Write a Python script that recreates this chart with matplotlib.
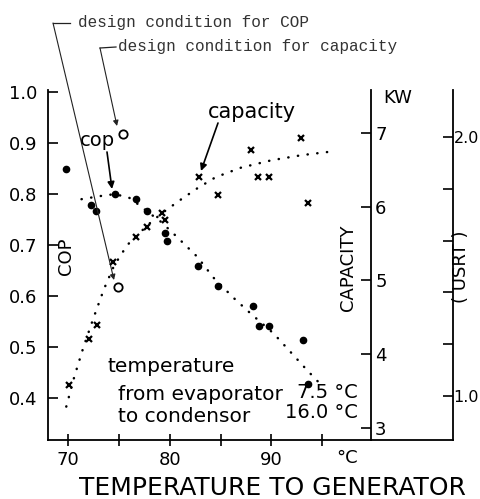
import matplotlib
matplotlib.use("Agg")
import matplotlib.pyplot as plt
from matplotlib.lines import Line2D
from matplotlib.ticker import FixedLocator

# measured COP (dots)
cop_temp = [69.8, 72.2, 72.7, 74.6, 76.7, 77.7, 79.5, 79.7, 82.8, 84.7, 88.2, 88.8, 89.8, 93.1, 93.6]
cop_vals = [0.849, 0.778, 0.767, 0.800, 0.791, 0.767, 0.723, 0.708, 0.659, 0.620, 0.580, 0.541, 0.541, 0.514, 0.427]

# measured capacity in kW (crosses)
cap_temp = [70.1, 72.0, 72.8, 74.4, 76.7, 77.7, 79.2, 79.5, 82.9, 84.7, 88.0, 88.7, 89.8, 92.9, 93.6]
cap_kw = [3.58, 4.21, 4.39, 5.25, 5.59, 5.73, 5.92, 5.82, 6.40, 6.16, 6.77, 6.40, 6.40, 6.93, 6.05]

# dotted trend curves
cop_curve_t = [71.3, 73.1, 74.6, 76.1, 77.7, 79.1, 80.7, 82.7, 84.3, 86.3, 88.0, 90.2, 91.9, 93.5, 94.7]
cop_curve_v = [0.790, 0.796, 0.800, 0.792, 0.767, 0.746, 0.716, 0.677, 0.636, 0.596, 0.565, 0.527, 0.490, 0.455, 0.430]
cap_curve_t = [69.8, 70.6, 71.5, 72.5, 73.5, 74.5, 75.8, 77.8, 79.1, 81.0, 82.7, 84.5, 87.0, 90.0, 93.0, 96.0]
cap_curve_v = [3.29, 3.70, 4.10, 4.50, 4.88, 5.20, 5.48, 5.75, 5.90, 6.09, 6.25, 6.40, 6.53, 6.63, 6.70, 6.75]

# design conditions (open circles)
design_cop_t, design_cop_v = [74.9], [0.618]
design_cap_t, design_cap_v = [75.4], [6.99]

W, H = 481, 499


def fp(px, py):
    # pixel position (from top-left) -> figure fraction
    return (px / W, 1 - py / H)


fig = plt.figure(figsize=(4.81, 4.99), dpi=100)
ax = fig.add_axes([48 / W, 59 / H, 323 / W, 350 / H])
ax2 = ax.twinx()
ax3 = ax.twinx()

dots = (0, (0.1, 3.8))
ax.plot(cop_curve_t, cop_curve_v, color="k", lw=1.8, linestyle=dots, dash_capstyle="round")
ax2.plot(cap_curve_t, cap_curve_v, color="k", lw=1.8, linestyle=dots, dash_capstyle="round")
ax.plot(cop_temp, cop_vals, "o", color="k", ms=4.5, ls="none")
ax2.plot(cap_temp, cap_kw, "x", color="k", ms=4.5, mew=1.6, ls="none")
ax.plot(design_cop_t, design_cop_v, "o", mfc="white", mec="k", ms=6, mew=1.3, ls="none")
ax2.plot(design_cap_t, design_cap_v, "o", mfc="white", mec="k", ms=6, mew=1.3, ls="none")

# axes limits
ax.set_xlim(68.0, 99.8)
ax.set_ylim(0.318, 1.004)
ax2.set_ylim(2.837, 7.583)
ax3.set_ylim(0.830, 2.181)

for a in (ax, ax2, ax3):
    a.spines["top"].set_visible(False)
    for s in a.spines.values():
        s.set_linewidth(1.3)
ax.spines["right"].set_visible(False)
ax2.spines["left"].set_visible(False)
ax3.spines["left"].set_visible(False)
ax2.spines["bottom"].set_visible(False)
ax3.spines["bottom"].set_visible(False)
ax3.spines["right"].set_position(("axes", 1.254))
ax.plot([1, 1.254], [0, 0], color="k", lw=1.3, transform=ax.transAxes, clip_on=False)

ax.xaxis.set_major_locator(FixedLocator([70, 80, 90]))
ax.xaxis.set_minor_locator(FixedLocator([75, 85, 95]))
ax.set_xticklabels(["70", "80", "90"])
ax.tick_params(axis="x", which="both", direction="inout", length=8, width=1.2, labelsize=13, pad=4)
ax.set_yticks([0.4, 0.5, 0.6, 0.7, 0.8, 0.9, 1.0])
ax.set_yticklabels(["0.4", "0.5", "0.6", "0.7", "0.8", "0.9", "1.0"])
ax.tick_params(axis="y", direction="in", length=7, width=1.2, labelsize=13, pad=8)

ax2.set_yticks([3, 4, 5, 6, 7])
ax2.tick_params(axis="y", direction="in", length=7, width=1.2, labelsize=13, pad=3)
ax3.set_yticks([1.0, 1.2, 1.4, 1.6, 1.8, 2.0])
ax3.set_yticklabels(["1.0", "", "", "", "", "2.0"])
ax3.tick_params(axis="y", direction="in", length=7, width=1.2, labelsize=11.5, pad=0.5)

# axis titles
fig.text(*fp(66, 256), "COP", rotation=90, fontsize=13, ha="center", va="center")
fig.text(*fp(348, 268), "CAPACITY", rotation=90, fontsize=13, ha="center", va="center")
fig.text(*fp(461, 267), "( USRT )", rotation=90, fontsize=13, ha="center", va="center")
fig.text(*fp(398, 98), "KW", fontsize=13, ha="center", va="center")
fig.text(*fp(358, 458), "°C", fontsize=13, ha="right", va="center")
fig.text(*fp(272, 488), "TEMPERATURE TO GENERATOR", fontsize=18, ha="center", va="center")

# in-plot labels
fig.text(*fp(80, 141), "cop", fontsize=14, ha="left", va="center")
fig.text(*fp(252, 112), "capacity", fontsize=15, ha="center", va="center")
fig.text(*fp(107, 366), "temperature", fontsize=14.5, ha="left", va="center")
fig.text(*fp(118, 394), "from evaporator", fontsize=14.5, ha="left", va="center")
fig.text(*fp(118, 416), "to condensor", fontsize=14.5, ha="left", va="center")
fig.text(*fp(358, 392), "7.5 °C", fontsize=14, ha="right", va="center")
fig.text(*fp(358, 413), "16.0 °C", fontsize=14, ha="right", va="center")

arrow = dict(arrowstyle="-|>", color="k", lw=1.2, mutation_scale=10, shrinkA=0, shrinkB=0)
ax.annotate("", xy=fp(112, 189), xycoords="figure fraction",
            xytext=fp(107, 152), textcoords="figure fraction", arrowprops=arrow)
ax.annotate("", xy=fp(201, 171), xycoords="figure fraction",
            xytext=fp(218, 123), textcoords="figure fraction", arrowprops=arrow)

# design-condition callouts
mono = "Liberation Mono"
fig.text(*fp(78, 23), "design condition for COP", fontsize=11.5, family=mono,
         color="#333333", ha="left", va="center")
fig.text(*fp(118, 47), "design condition for capacity", fontsize=11.5, family=mono,
         color="#333333", ha="left", va="center")
thin = dict(arrowstyle="-|>", color="#222222", lw=0.8, mutation_scale=8, shrinkA=0, shrinkB=0)
fig.add_artist(Line2D([53 / W, 70 / W], [1 - 23 / H, 1 - 23 / H], color="#222222", lw=0.9))
fig.add_artist(Line2D([100 / W, 116 / W], [1 - 48 / H, 1 - 47 / H], color="#222222", lw=0.9))
ax.annotate("", xy=fp(114, 280), xycoords="figure fraction",
            xytext=fp(53, 23), textcoords="figure fraction", arrowprops=thin)
ax.annotate("", xy=fp(117, 126), xycoords="figure fraction",
            xytext=fp(100, 48), textcoords="figure fraction", arrowprops=thin)

fig.savefig("out.png", dpi=100)
